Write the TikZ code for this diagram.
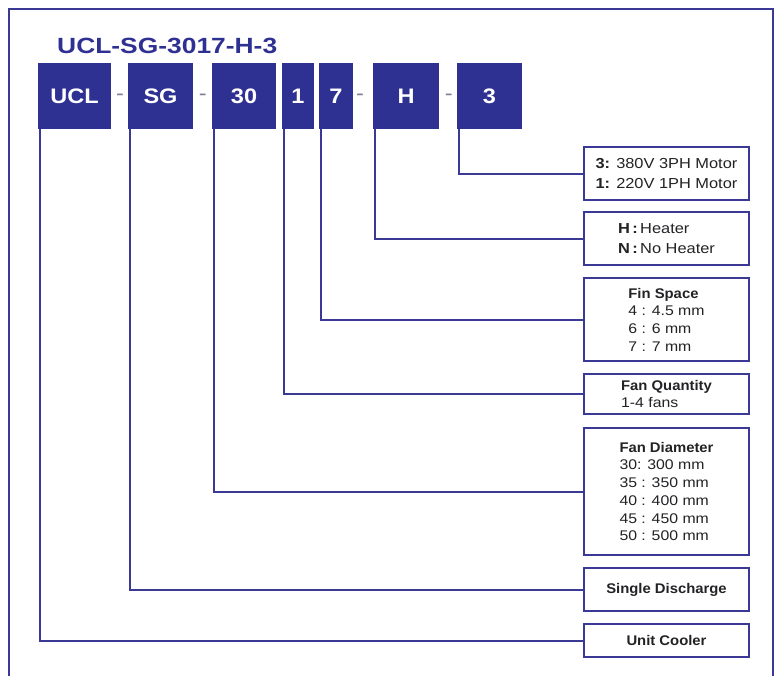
\documentclass[tikz,border=0pt]{standalone}
\usepackage{fontspec}
\setmainfont{Liberation Sans}
\newfontfamily\ttlfont[FakeStretch=1.2]{Liberation Sans}
\newfontfamily\cbfont[FakeStretch=1.12]{Liberation Sans}
\newfontfamily\lbfont[FakeStretch=1.06]{Liberation Sans}
\newfontfamily\rgfont[FakeStretch=1.13]{Liberation Sans}
\definecolor{ublue}{RGB}{46,49,146}
\definecolor{uline}{RGB}{58,58,150}
\definecolor{utext}{RGB}{35,35,38}
\definecolor{udash}{RGB}{125,125,150}
\tikzset{
  codebox/.style={fill=ublue, draw=none, inner sep=0pt, outer sep=0pt,
    minimum height=66pt, text=white, font=\cbfont\bfseries\fontsize{21}{21}\selectfont},
  infobox/.style={draw=uline, line width=2pt, fill=white, inner sep=0pt,
    minimum width=165pt, align=left, text=utext,
    font=\rgfont\fontsize{14}{17.7}\selectfont},
  conn/.style={draw=uline, line width=2pt},
  sepdash/.style={text=udash, inner sep=0pt, font=\rgfont\fontsize{21}{21}\selectfont},
  lbl/.style={font=\lbfont\bfseries\fontsize{14}{17.7}\selectfont}
}
\begin{document}
\begin{tikzpicture}[x=1pt,y=-1pt]
\useasboundingbox (0,0) rectangle (781,675);
% frame
\draw[conn] (9,680) -- (9,9) -- (773,9) -- (773,680);
% title
\node[anchor=base west, inner sep=0pt, text=ublue,
  font=\ttlfont\bfseries\fontsize{22}{22}\selectfont] (title) at (57,53.5) {UCL-SG-3017-H-3};
% code boxes
\node[codebox, minimum width=73pt] (ucl) at (74.5,96) {UCL};
\node[codebox, minimum width=65pt] (sg) at (160.5,96) {SG};
\node[codebox, minimum width=64pt] (dia) at (244,96) {30};
\node[codebox, minimum width=32pt] (qty) at (298,96) {1};
\node[codebox, minimum width=34pt] (fin) at (336,96) {7};
\node[codebox, minimum width=66pt] (htr) at (406,96) {H};
\node[codebox, minimum width=65pt] (mot) at (489.5,96) {3};
% separators
\node[sepdash] (d1) at (120,97) {-};
\node[sepdash] (d2) at (202.7,97) {-};
\node[sepdash] (d3) at (360,97) {-};
\node[sepdash] (d4) at (448.7,97) {-};
% info boxes
\node[infobox, minimum height=53pt, font=\rgfont\fontsize{14.5}{20}\selectfont] (bmot) at (666.5,173.5)
  {{\bfseries 3:} 380V 3PH Motor\\{\bfseries 1:} 220V 1PH Motor};
\node[infobox, minimum height=53pt, font=\rgfont\fontsize{14.5}{19.3}\selectfont] (bhtr) at (666.5,238.5)
  {{\bfseries H\,:}\,Heater\\{\bfseries N\,:}\,No Heater};
\node[infobox, minimum height=83pt] (bfin) at (666.5,319.5)
  {{\lbfont\bfseries Fin Space}\\4 : 4.5 mm\\6 : 6 mm\\7 : 7 mm};
\node[infobox, minimum height=40pt] (bqty) at (666.5,394)
  {{\lbfont\bfseries Fan Quantity}\\1-4 fans};
\node[infobox, minimum height=127pt] (bdia) at (666.5,491.5)
  {{\lbfont\bfseries Fan Diameter}\\30: 300 mm\\35 : 350 mm\\40 : 400 mm\\45 : 450 mm\\50 : 500 mm};
\node[infobox, minimum height=43pt, lbl] (bsg) at (666.5,589.5) {Single Discharge};
\node[infobox, minimum height=33pt, lbl] (bucl) at (666.5,640.5) {Unit Cooler};
% connectors
\draw[conn] ([xshift=1.5pt]mot.south west) |- (bmot.west);
\draw[conn] ([xshift=1.5pt]htr.south west) |- (bhtr.west);
\draw[conn] ([xshift=1.5pt]fin.south west) |- (bfin.west);
\draw[conn] ([xshift=1.5pt]qty.south west) |- (bqty.west);
\draw[conn] ([xshift=1.5pt]dia.south west) |- (bdia.west);
\draw[conn] ([xshift=1.5pt]sg.south west) |- (bsg.west);
\draw[conn] ([xshift=1.5pt]ucl.south west) |- (bucl.west);
\end{tikzpicture}
\end{document}
